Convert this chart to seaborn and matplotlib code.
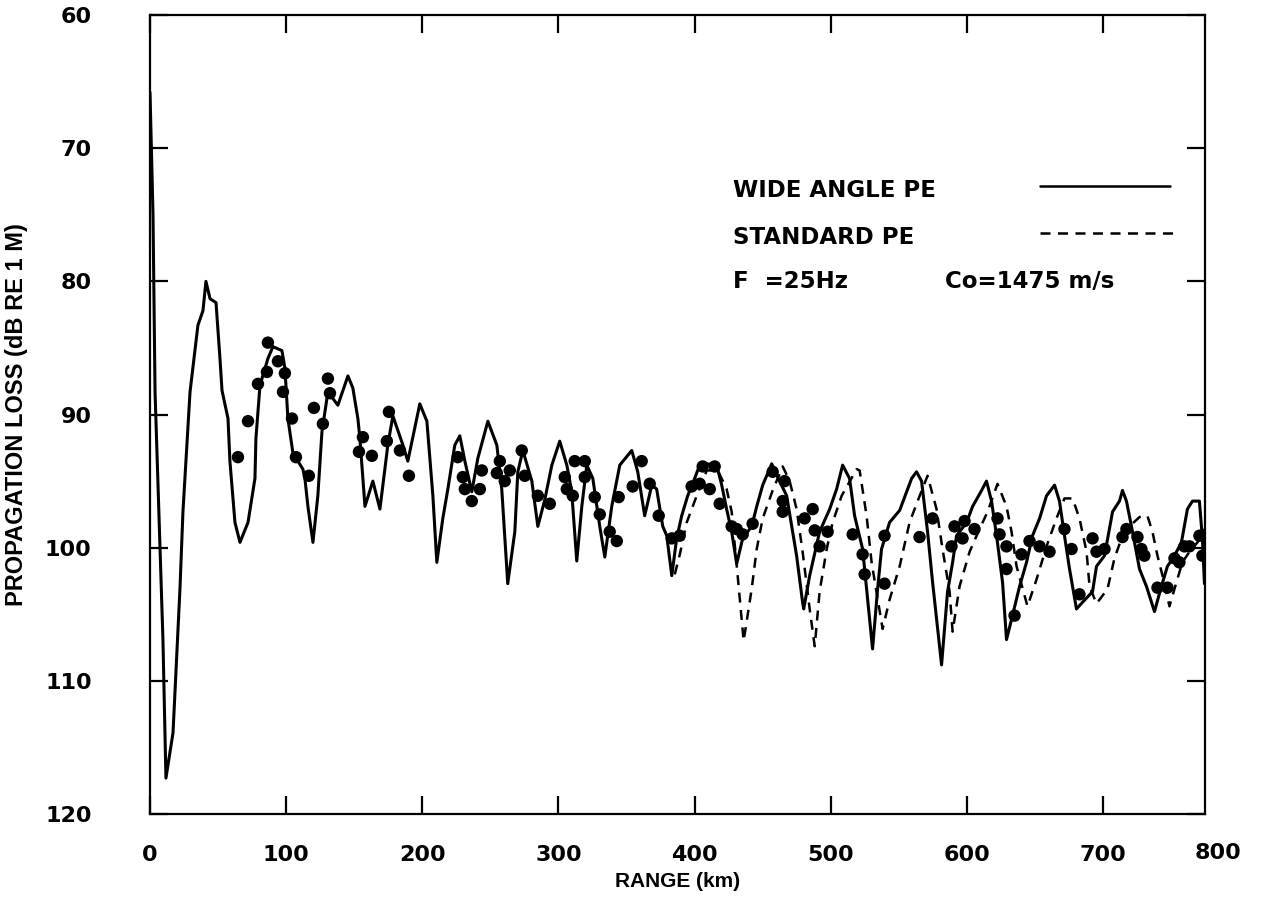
import numpy as np
import pandas as pd
import matplotlib
matplotlib.use("Agg")
import matplotlib.pyplot as plt
import seaborn as sns

# wide angle PE (solid)
wide_range = [0.0, 2.2, 3.7, 7.3, 9.5, 11.7, 16.9, 22.0, 24.2, 29.4, 35.2, 38.9, 41.1, 44.1,
              48.5, 51.4, 52.9, 57.3, 58.7, 62.4, 66.1, 72.0, 77.1, 77.8, 80.8, 86.6, 90.3,
              96.9, 99.1, 101.3, 105.0, 112.3, 113.8, 116.0, 119.7, 123.3, 126.3, 130.7,
              138.0, 145.4, 149.0, 152.7, 154.2, 157.9, 163.7, 168.9, 174.7, 178.4, 185.8,
              189.4, 198.2, 203.4, 207.8, 210.7, 215.1, 218.8, 223.9, 227.6, 231.3, 236.4,
              240.8, 248.2, 254.8, 258.4, 262.8, 268.0, 270.2, 273.9, 280.5, 284.9, 290.0,
              295.2, 301.0, 306.2, 309.8, 313.5, 317.2, 320.9, 325.3, 330.4, 334.1, 339.2,
              345.1, 353.9, 358.3, 363.4, 368.6, 372.2, 376.7, 379.6, 383.3, 386.9, 390.6,
              395.0, 400.1, 403.8, 409.0, 416.3, 420.0, 423.6, 427.3, 431.0, 435.4, 442.0,
              445.7, 450.1, 456.7, 461.1, 467.7, 471.4, 475.0, 479.4, 480.2, 484.6, 491.9,
              499.3, 504.4, 508.8, 513.9, 517.6, 523.5, 527.2, 530.8, 534.5, 537.4, 543.3,
              550.7, 555.8, 559.5, 563.1, 566.8, 571.2, 574.9, 581.5, 585.9, 589.6, 592.5,
              599.9, 604.3, 610.9, 614.5, 618.2, 621.9, 626.3, 629.2, 633.6, 638.8, 643.9,
              648.3, 653.5, 658.6, 664.5, 668.1, 671.8, 675.5, 680.6, 685.0, 692.4, 695.3,
              701.2, 707.1, 712.2, 714.4, 717.3, 721.0, 726.9, 732.0, 737.9, 743.0, 747.4,
              752.6, 757.7, 762.1, 765.8, 770.9, 773.1, 774.6]
wide_loss = [65.8, 75.0, 88.3, 99.9, 106.9, 117.3, 113.9, 103.1, 97.3, 88.3, 83.3, 82.2, 80.0,
             81.3, 81.6, 85.8, 88.2, 90.3, 93.5, 98.1, 99.6, 98.1, 94.8, 91.8, 87.8, 85.8, 84.9,
             85.2, 86.5, 90.3, 92.9, 94.1, 94.8, 96.9, 99.6, 96.1, 91.3, 88.3, 89.3, 87.1, 88.0,
             90.3, 91.8, 96.9, 95.0, 97.1, 92.3, 90.1, 92.3, 93.5, 89.2, 90.5, 96.1, 101.1,
             97.8, 95.6, 92.3, 91.6, 93.5, 95.8, 93.3, 90.5, 92.3, 95.6, 102.7, 98.8, 94.3,
             92.7, 95.0, 98.4, 96.4, 93.8, 92.0, 93.8, 95.8, 101.0, 96.9, 93.8, 94.8, 98.4,
             100.7, 96.9, 93.8, 92.7, 94.3, 97.6, 95.3, 95.6, 98.4, 99.1, 102.1, 99.3, 97.6,
             96.1, 94.8, 93.8, 93.7, 93.8, 95.3, 97.1, 98.8, 101.2, 99.3, 98.4, 96.9, 95.3,
             93.7, 94.7, 96.1, 98.4, 100.6, 104.1, 104.6, 102.1, 98.8, 97.1, 95.6, 93.8, 94.8,
             97.6, 100.1, 103.9, 107.6, 103.1, 100.1, 98.1, 97.2, 95.8, 94.8, 94.3, 95.0, 98.8,
             102.6, 108.8, 103.3, 101.1, 99.1, 98.1, 96.9, 95.7, 95.0, 96.5, 99.1, 102.6,
             106.9, 105.1, 102.9, 101.1, 99.1, 97.8, 96.1, 95.3, 96.5, 99.1, 101.6, 104.6,
             104.1, 103.3, 101.4, 100.6, 97.3, 96.5, 95.7, 96.5, 98.4, 101.6, 102.9, 104.8,
             102.9, 101.4, 100.6, 99.6, 97.1, 96.5, 96.5, 99.3, 102.7]

# standard PE (dashed), only visible where it departs from the wide angle curve
std_range = [385.5, 389.2, 394.3, 401.6, 409.0, 417.1, 423.6, 427.3, 431.7, 436.1, 442.0,
             445.7, 450.1, 457.4, 464.8, 469.9, 475.0, 479.4, 484.6, 488.3, 491.9, 497.1,
             501.5, 508.1, 512.5, 519.1, 521.3, 526.4, 530.1, 538.2, 543.3, 550.7, 558.0,
             563.9, 571.2, 577.8, 582.2, 587.4, 589.6, 594.7, 602.1, 609.4, 615.3, 622.6,
             629.2, 632.9, 636.6, 644.6, 651.2, 658.6, 665.9, 671.8, 677.7, 682.8, 688.0,
             690.2, 695.3, 703.4, 708.5, 713.7, 719.5, 726.9, 732.7, 736.4, 740.1, 743.8,
             748.9, 754.0, 758.4, 763.6, 769.5, 774.6]
std_loss = [102.0, 100.5, 98.1, 96.1, 94.2, 94.2, 95.6, 97.3, 102.1, 107.0, 103.1, 100.1,
            97.8, 95.7, 93.9, 95.0, 97.1, 100.3, 104.6, 107.4, 103.3, 100.1, 98.1, 96.1, 95.3,
            94.1, 94.2, 97.6, 101.1, 106.1, 103.9, 101.4, 98.1, 96.5, 94.6, 97.1, 100.1, 103.3,
            106.3, 102.9, 100.3, 98.6, 97.3, 95.2, 96.9, 98.8, 101.4, 104.4, 102.4, 99.9, 97.8,
            96.3, 96.3, 97.8, 100.3, 102.9, 104.2, 103.1, 100.8, 99.3, 98.4, 97.7, 97.6, 98.8,
            100.6, 102.1, 104.4, 102.6, 101.1, 100.3, 99.6, 98.6]

# measured data (dots)
meas_range = [64.6, 72.0, 79.3, 85.9, 86.6, 94.0, 97.7, 99.1, 104.3, 107.2, 116.7, 120.4,
              127.0, 130.7, 132.2, 153.5, 156.4, 163.0, 174.0, 175.5, 183.6, 190.2, 226.1,
              229.8, 231.3, 236.4, 242.3, 243.8, 254.8, 257.0, 260.6, 264.3, 273.1, 275.3,
              284.9, 293.7, 304.7, 306.2, 310.6, 312.0, 319.4, 319.4, 326.7, 330.4, 337.7,
              342.9, 344.3, 354.6, 361.2, 367.1, 373.7, 383.3, 389.1, 397.9, 403.8, 406.0,
              411.2, 414.8, 418.5, 427.3, 431.0, 435.4, 442.7, 457.4, 464.8, 464.8, 466.2,
              480.9, 486.8, 488.3, 491.9, 497.8, 516.2, 523.5, 525.0, 539.6, 539.6, 565.3,
              574.9, 588.8, 591.0, 596.9, 598.4, 605.7, 622.6, 624.1, 629.2, 629.2, 635.1,
              640.2, 646.1, 653.5, 660.8, 671.8, 677.0, 682.8, 692.4, 695.3, 701.2, 714.4,
              717.3, 725.4, 728.3, 730.5, 740.1, 747.4, 752.6, 756.2, 759.9, 763.6, 770.9,
              773.1]
meas_loss = [93.2, 90.5, 87.7, 86.8, 84.6, 86.0, 88.3, 86.9, 90.3, 93.2, 94.6, 89.5, 90.7,
             87.3, 88.4, 92.8, 91.7, 93.1, 92.0, 89.8, 92.7, 94.6, 93.2, 94.7, 95.6, 96.5,
             95.6, 94.2, 94.4, 93.5, 95.0, 94.2, 92.7, 94.6, 96.1, 96.7, 94.7, 95.6, 96.1,
             93.5, 93.5, 94.7, 96.2, 97.5, 98.8, 99.5, 96.2, 95.4, 93.5, 95.2, 97.6, 99.3,
             99.1, 95.4, 95.2, 93.9, 95.6, 93.9, 96.7, 98.4, 98.6, 99.0, 98.2, 94.3, 96.5,
             97.3, 95.0, 97.8, 97.1, 98.7, 99.9, 98.8, 99.0, 100.5, 102.0, 99.1, 102.7, 99.2,
             97.8, 99.9, 98.4, 99.3, 98.0, 98.6, 97.8, 99.0, 99.9, 101.6, 105.1, 100.5, 99.5,
             99.9, 100.3, 98.6, 100.1, 103.5, 99.3, 100.3, 100.1, 99.2, 98.6, 99.2, 100.1,
             100.6, 103.0, 103.0, 100.8, 101.1, 99.9, 99.9, 99.1, 100.6]

x_ticks = [0, 100, 200, 300, 400, 500, 600, 700]
y_ticks = [60, 70, 80, 90, 100, 110, 120]

sns.set_style("ticks")
plt.rcParams["font.family"] = ["DejaVu Sans"]
plt.rcParams["font.weight"] = "bold"
plt.rcParams["text.color"] = "black"
plt.rcParams["axes.labelcolor"] = "black"
plt.rcParams["xtick.color"] = "black"
plt.rcParams["ytick.color"] = "black"
plt.rcParams["axes.edgecolor"] = "black"

wide = pd.DataFrame({"range": wide_range, "loss": wide_loss})
std = pd.DataFrame({"range": std_range, "loss": std_loss})
meas = pd.DataFrame({"range": meas_range, "loss": meas_loss})

fig = plt.figure(figsize=(12.68, 9.22), dpi=100)
ax = fig.add_axes([0.1183, 0.1171, 0.8320, 0.8666])

sns.lineplot(data=std, x="range", y="loss", ax=ax, color="black", linewidth=1.8,
             linestyle=(0, (4, 3)), estimator=None)
sns.lineplot(data=wide, x="range", y="loss", ax=ax, color="black", linewidth=2.2,
             estimator=None)
sns.scatterplot(data=meas, x="range", y="loss", ax=ax, color="black", s=80,
                edgecolor="none", zorder=3)

ax.set_xlim(0, 775)
ax.set_ylim(120, 60)
ax.set_xticks(x_ticks)
ax.set_yticks(y_ticks)
ax.tick_params(direction="in", length=13, width=1.6, top=True, right=True,
               labelsize=16)
ax.tick_params(axis="y", pad=42)
ax.tick_params(axis="x", pad=22)
for s in ax.spines.values():
    s.set_linewidth(1.6)

# last range label sits past the plotted frame in the original
ax.text(1.012, -0.049, "800", transform=ax.transAxes, ha="center", va="center",
        fontsize=16, fontweight="bold")

ax.set_xlabel("RANGE (km)", fontsize=15, fontweight="bold", family="Liberation Sans")
ax.set_ylabel("PROPAGATION LOSS (dB RE 1 M)", fontsize=17, fontweight="bold",
              family="Liberation Sans")
ax.xaxis.set_label_coords(0.5, -0.072)
ax.yaxis.set_label_coords(-0.116, 0.5)

# key, drawn the way the original lays it out
ax.text(0.5526, 0.781, "WIDE ANGLE PE", transform=ax.transAxes, fontsize=16.5,
        fontweight="bold", va="center")
ax.text(0.5526, 0.721, "STANDARD PE", transform=ax.transAxes, fontsize=16.5,
        fontweight="bold", va="center")
ax.text(0.5526, 0.666, "F  =25Hz", transform=ax.transAxes, fontsize=16.5,
        fontweight="bold", va="center")
ax.text(0.7536, 0.666, "Co=1475 m/s", transform=ax.transAxes, fontsize=16.5,
        fontweight="bold", va="center")
ax.plot([0.8436, 0.9668], [0.786, 0.786], transform=ax.transAxes, color="black",
        linewidth=1.8)
ax.plot([0.8436, 0.9763], [0.727, 0.727], transform=ax.transAxes, color="black",
        linewidth=1.8, linestyle=(0, (4, 3)))

fig.savefig("out.png", dpi=100)
plt.close(fig)
